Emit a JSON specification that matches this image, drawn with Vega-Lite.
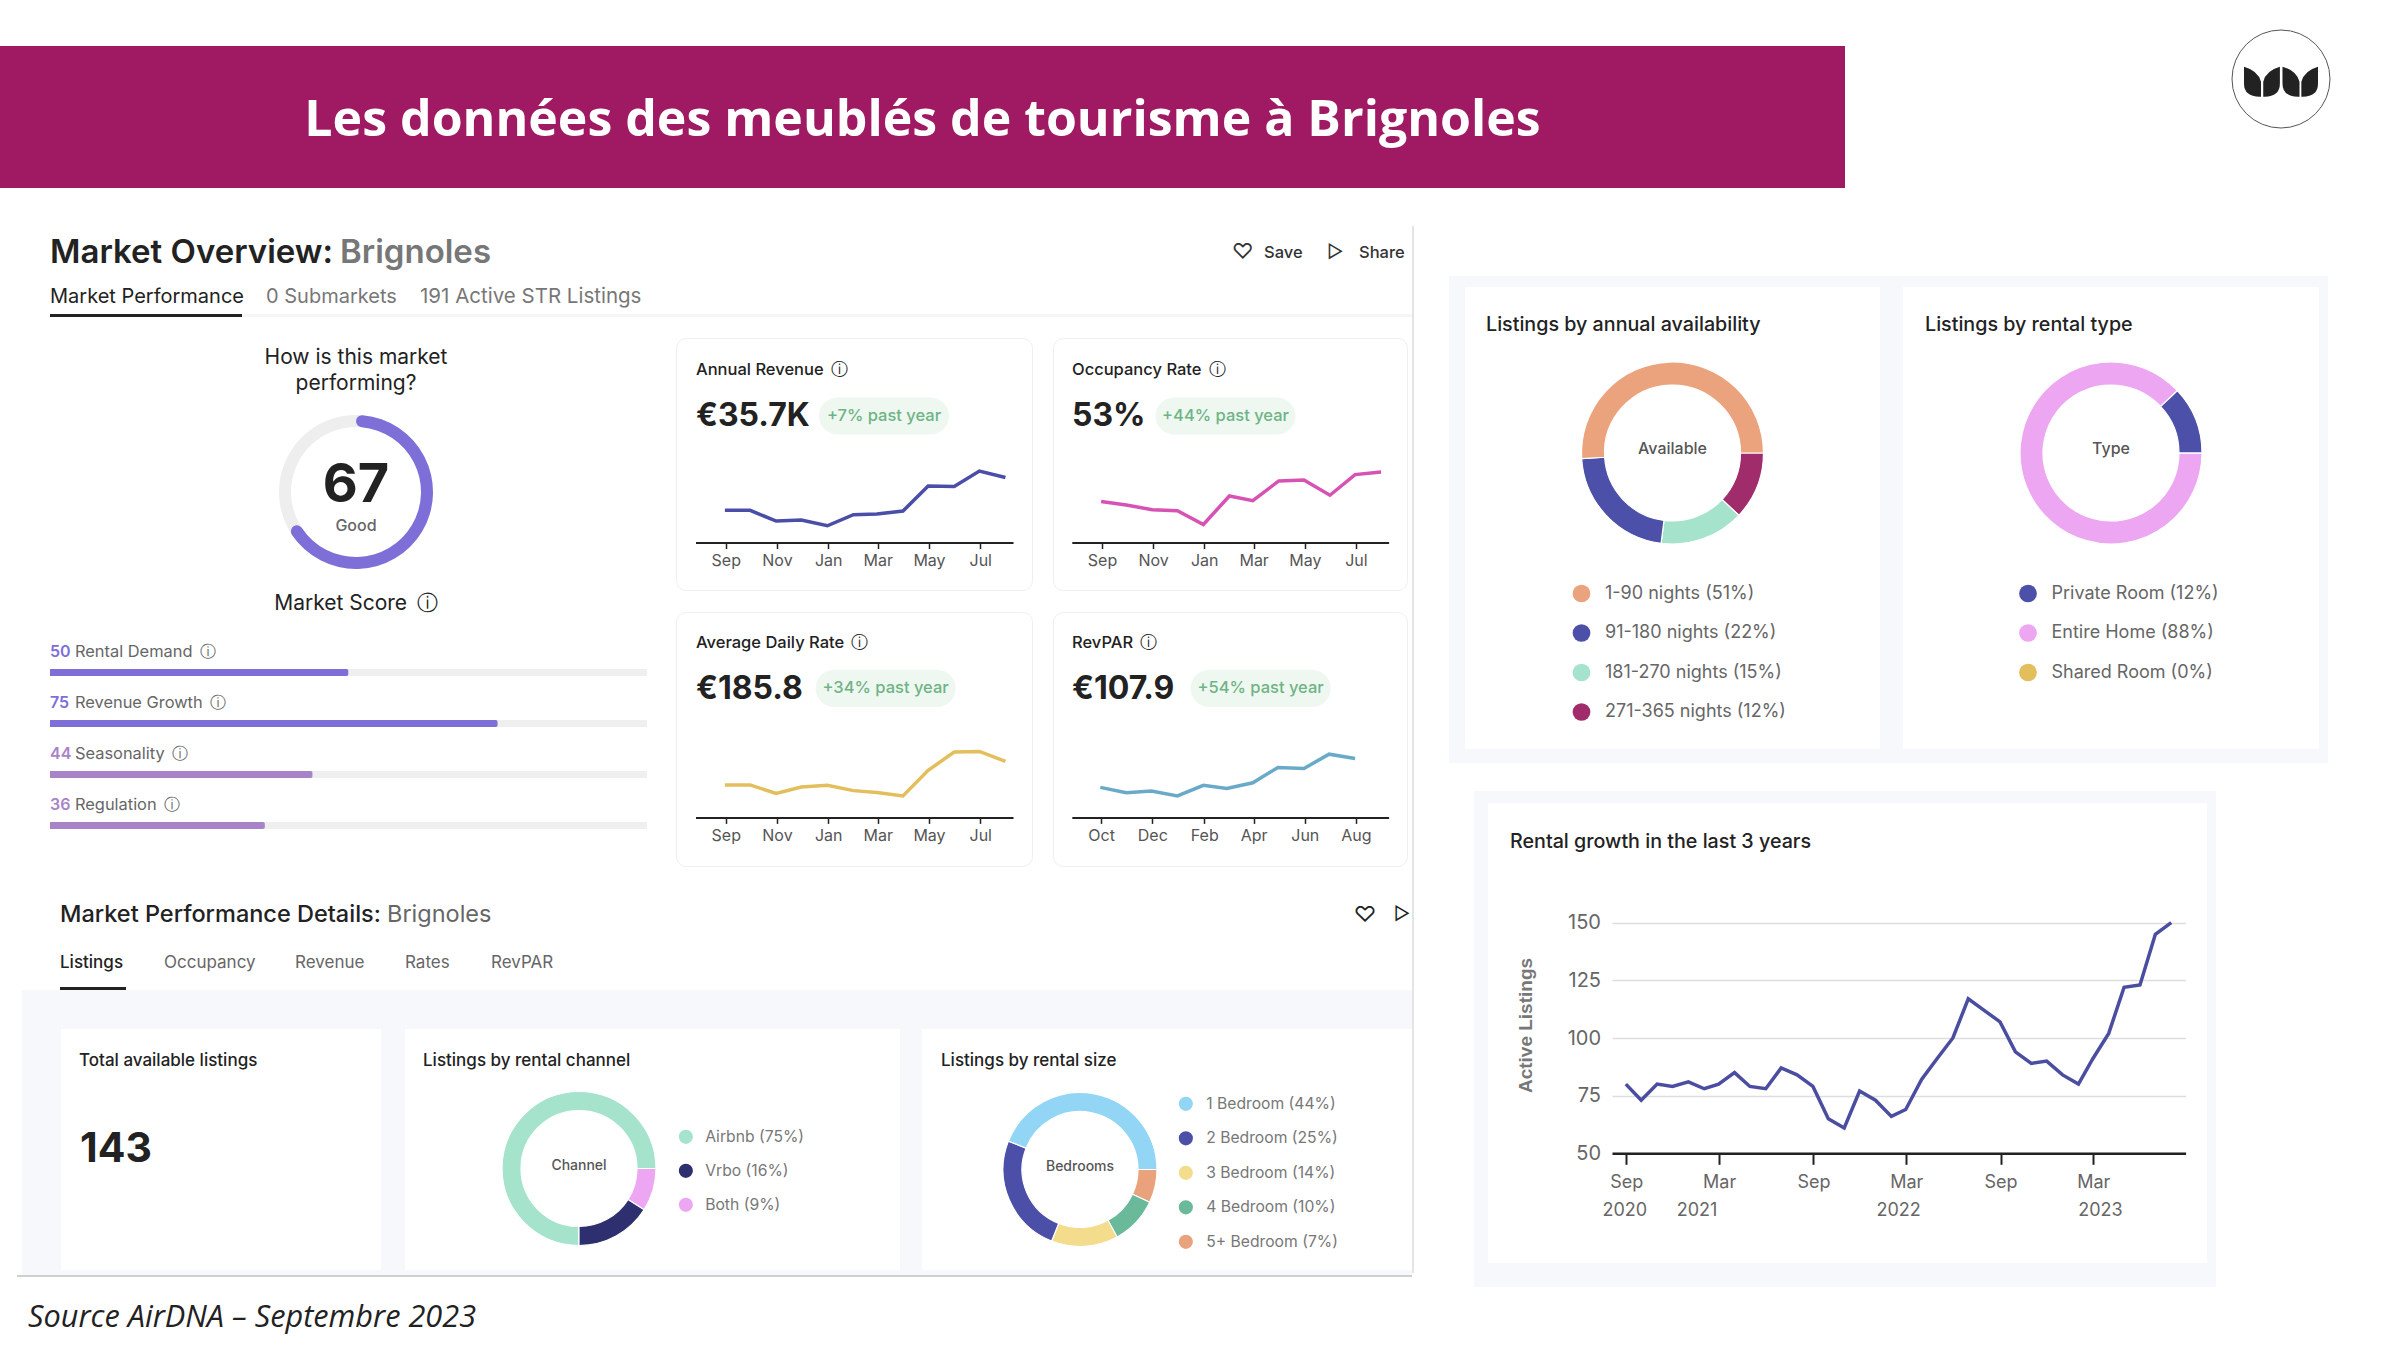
{"$schema":"https://vega.github.io/schema/vega-lite/v6.json","padding":0,"background":"white","spacing":0,
"resolve":{"scale":{"color":"independent","theta":"independent"},"legend":{"color":"independent"}},
"datasets":{"blank":[]},
"config":{"font":"Inter","view":{"stroke":null},"concat":{"spacing":0},"axis":{"labelFont":"Inter","grid":false,"title":null,"labelOverlap":false,"labelFlush":false},"legend":{"labelFont":"Inter","labelLimit":400}},
"vconcat":[
{"hconcat":[
 {"vconcat":[
  {"width":1845,"height":46,"view":{"fill":"#fff"},"data":{"name":"blank"},"mark":{"type":"text"},"encoding":{"text":{"field":"t"}}},
  {"width":1845,"height":142,"view":{"fill":"#A01A63"},"data":{"values":[{"t":"Les données des meublés de tourisme à Brignoles"}]},"mark":{"type":"text","font":"Open Sans","fontWeight":700,"fontSize":50,"color":"#fff","dy":4},"encoding":{"text":{"field":"t"}}}
 ]},
 {"width":555,"height":188,"view":{"fill":"#fff"},"layer":[
  {"data":{"values":[{"logo":"ring"}]},"mark":{"type":"point","shape":"circle","size":9604,"filled":false,"stroke":"#555","strokeWidth":1,"opacity":1,"xOffset":158.5,"yOffset":-15}},
  {"data":{"values":[{"logo":"leaves"}]},"mark":{"type":"point","filled":true,"opacity":1,"color":"#222","size":5476,"xOffset":158.5,"yOffset":-12.3,"shape":"M-1,-0.405 Q-0.62,-0.3 -0.54,0 L-0.54,0.405 Q-1,0.42 -1,0.05 Z M-0.03,-0.405 Q-0.41,-0.3 -0.48,0 L-0.48,0.405 Q-0.03,0.42 -0.03,0.05 Z M0.04,-0.405 Q0.42,-0.3 0.5,0 L0.5,0.405 Q0.04,0.42 0.04,0.05 Z M1,-0.405 Q0.63,-0.3 0.55,0 L0.55,0.405 Q1,0.42 1,0.05 Z"}}
 ]}
]},
{"resolve":{"scale":{"color":"independent","theta":"independent"},"legend":{"color":"independent"}},"hconcat":[
 {"resolve":{"scale":{"color":"independent","theta":"independent"},"legend":{"color":"independent"}},"vconcat":[
  {"width":1412,"height":126,"view":{"fill":"#fff"},"layer":[
   {"data":{"values":[{"t":"Market Overview:"}]},"mark":{"type":"text","align":"left","dx":-656,"dy":1.5,"fontSize":33,"fontWeight":600,"color":"#222"},"encoding":{"text":{"field":"t"}}},
   {"data":{"values":[{"t":"Brignoles"}]},"mark":{"type":"text","align":"left","dx":-366,"dy":1.5,"fontSize":33,"fontWeight":600,"color":"#777"},"encoding":{"text":{"field":"t"}}},
   {"data":{"values":[{"t":"♡"}]},"mark":{"type":"text","align":"left","dx":526,"dy":1.5,"fontSize":21,"color":"#333"},"encoding":{"text":{"field":"t"}}},
   {"data":{"values":[{"t":"Save"}]},"mark":{"type":"text","align":"left","dx":558,"dy":1.5,"fontSize":16.5,"fontWeight":500,"color":"#333"},"encoding":{"text":{"field":"t"}}},
   {"data":{"values":[{"t":"▷"}]},"mark":{"type":"text","align":"left","dx":621,"dy":1.5,"fontSize":18,"color":"#333"},"encoding":{"text":{"field":"t"}}},
   {"data":{"values":[{"t":"Share"}]},"mark":{"type":"text","align":"left","dx":653,"dy":1.5,"fontSize":16.5,"fontWeight":500,"color":"#333"},"encoding":{"text":{"field":"t"}}},
   {"data":{"values":[{"t":"Market Performance"}]},"mark":{"type":"text","align":"left","dx":-656,"dy":45.5,"fontSize":20,"color":"#222"},"encoding":{"text":{"field":"t"}}},
   {"data":{"values":[{"t":"0 Submarkets"}]},"mark":{"type":"text","align":"left","dx":-440,"dy":45.5,"fontSize":20,"color":"#777"},"encoding":{"text":{"field":"t"}}},
   {"data":{"values":[{"t":"191 Active STR Listings"}]},"mark":{"type":"text","align":"left","dx":-286,"dy":45.5,"fontSize":20.5,"color":"#777"},"encoding":{"text":{"field":"t"}}}
  ]},
  {"hconcat":[
   {"width":50,"height":3,"view":{"fill":"#fff"},"data":{"name":"blank"},"mark":{"type":"text"},"encoding":{"text":{"field":"t"}}},
   {"width":192,"height":3,"view":{"fill":"#222"},"data":{"name":"blank"},"mark":{"type":"text"},"encoding":{"text":{"field":"t"}}},
   {"width":1170,"height":3,"view":{"fill":"#F6F6F6"},"data":{"name":"blank"},"mark":{"type":"text"},"encoding":{"text":{"field":"t"}}}
  ]},
  {"width":1412,"height":19.5,"view":{"fill":"#fff"},"data":{"name":"blank"},"mark":{"type":"text"},"encoding":{"text":{"field":"t"}}},
  {"resolve":{"scale":{"color":"independent","theta":"independent"},"legend":{"color":"independent"}},"hconcat":[
   {"width":50,"height":525,"view":{"fill":"#fff"},"data":{"name":"blank"},"mark":{"type":"text"},"encoding":{"text":{"field":"t"}}},
   {"resolve":{"scale":{"color":"independent","theta":"independent"},"legend":{"color":"independent"}},"vconcat":[
    {"width":612,"height":305,"view":{"fill":"#fff"},"layer":[
     {"data":{"values":[{"track":100}]},"mark":{"type":"arc","innerRadius":65,"outerRadius":77,"color":"#EEEEEE","yOffset":1.5},"encoding":{"theta":{"field":"track","type":"quantitative","scale":{"domain":[0,100]}}}},
     {"data":{"values":[{"track":67}]},"mark":{"type":"arc","innerRadius":65,"outerRadius":77,"color":"#7E6FD8","cornerRadius":6,"yOffset":1.5},"encoding":{"theta":{"field":"track","type":"quantitative","scale":{"domain":[0,100]}}}},
     {"data":{"values":[{"t":"How is this market"}]},"mark":{"type":"text","dy":-133,"fontSize":21,"color":"#222"},"encoding":{"text":{"field":"t"}}},
     {"data":{"values":[{"t":"performing?"}]},"mark":{"type":"text","dy":-107,"fontSize":21,"color":"#222"},"encoding":{"text":{"field":"t"}}},
     {"data":{"values":[{"t":"67"}]},"mark":{"type":"text","dy":-4.5,"fontSize":54,"fontWeight":700,"color":"#222"},"encoding":{"text":{"field":"t"}}},
     {"data":{"values":[{"t":"Good"}]},"mark":{"type":"text","dy":35.5,"fontSize":16,"fontWeight":500,"color":"#666"},"encoding":{"text":{"field":"t"}}},
     {"data":{"values":[{"t":"Market Score \u2009ⓘ"}]},"mark":{"type":"text","dy":113,"fontSize":21,"color":"#222"},"encoding":{"text":{"field":"t"}}}
    ]},
    {"width":597,"height":204,"view":{"fill":"#fff"},
     "data":{"values":[{"metric":"Rental Demand \u2009ⓘ","score":50,"max":100},{"metric":"Revenue Growth \u2009ⓘ","score":75,"max":100},{"metric":"Seasonality \u2009ⓘ","score":44,"max":100},{"metric":"Regulation \u2009ⓘ","score":36,"max":100}]},
     "encoding":{"y":{"field":"metric","type":"nominal","sort":null,"axis":null,"scale":{"paddingInner":0,"paddingOuter":0}}},
     "layer":[
      {"mark":{"type":"bar","height":7,"color":"#EFEFEF"},"encoding":{"x":{"field":"max","type":"quantitative","axis":null,"scale":{"domain":[0,100]}}}},
      {"mark":{"type":"bar","height":7,"cornerRadiusEnd":2},"encoding":{"x":{"field":"score","type":"quantitative","axis":null,"scale":{"domain":[0,100]}},"color":{"field":"metric","type":"nominal","legend":null,"scale":{"domain":["Rental Demand \u2009ⓘ","Revenue Growth \u2009ⓘ","Seasonality \u2009ⓘ","Regulation \u2009ⓘ"],"range":["#7E6FD8","#7E6FD8","#A883C8","#A883C8"]}}}},
      {"mark":{"type":"text","align":"left","dy":-21,"fontSize":16,"fontWeight":600},"encoding":{"x":{"datum":0,"type":"quantitative"},"text":{"field":"score"},"color":{"field":"metric","type":"nominal","legend":null}}},
      {"mark":{"type":"text","align":"left","dy":-21,"dx":25,"fontSize":16.4,"color":"#666"},"encoding":{"x":{"datum":0,"type":"quantitative"},"text":{"field":"metric"}}}
     ]}
   ]},
   {"width":13,"height":525,"view":{"fill":"#fff"},"data":{"name":"blank"},"mark":{"type":"text"},"encoding":{"text":{"field":"t"}}},
   {"vconcat":[
    {"hconcat":[
     {"width":356,"height":252,"view":{"fill":"#fff","stroke":"#EFEFEF","cornerRadius":10},"layer":[
      {"data":{"values":[{"month":"2022-09-01","v":33.4},{"month":"2022-10-01","v":33.4},{"month":"2022-11-01","v":32.65},{"month":"2022-12-01","v":32.72},{"month":"2023-01-01","v":32.32},{"month":"2023-02-01","v":33.1},{"month":"2023-03-01","v":33.15},{"month":"2023-04-01","v":33.35},{"month":"2023-05-01","v":35.1},{"month":"2023-06-01","v":35.07},{"month":"2023-07-01","v":36.15},{"month":"2023-08-01","v":35.7}]},
       "mark":{"type":"line","color":"#4A4EA8","strokeWidth":3.5},
       "encoding":{"x":{"field":"month","type":"temporal","scale":{"domain":["2022-07-28","2023-08-10"],"range":[19.5,337]},"axis":{"values":[{"year":2022,"month":"sep","date":2},{"year":2022,"month":"nov","date":2},{"year":2023,"month":"jan","date":2},{"year":2023,"month":"mar","date":2},{"year":2023,"month":"may","date":2},{"year":2023,"month":"jul","date":2}],"format":"%b","offset":-47.5,"domainColor":"#222","domainWidth":2,"tickColor":"#222","tickWidth":1.5,"tickSize":6,"labelColor":"#555","labelFontSize":16,"labelPadding":4}},
        "y":{"field":"v","type":"quantitative","axis":null,"scale":{"domain":[31.15,36.15],"range":[204.5,133.1]}}}},
      {"data":{"values":[{"t":"Annual Revenue \u2009ⓘ"}]},"mark":{"type":"text","align":"left","dx":-158,"dy":-94,"fontSize":16.5,"fontWeight":500,"color":"#222"},"encoding":{"text":{"field":"t"}}},
      {"data":{"values":[{"t":"€35.7K"}]},"mark":{"type":"text","align":"left","dx":-158,"dy":-48,"fontSize":32,"fontWeight":700,"color":"#222"},"encoding":{"text":{"field":"t"}}},
      {"data":{"values":[{"badge":"pill"}]},"mark":{"type":"point","filled":true,"opacity":1,"color":"#EEF8F0","size":16900,"xOffset":30,"yOffset":-48,"shape":"M-0.715,-0.285 H0.715 A0.285,0.285 0 0 1 0.715,0.285 H-0.715 A0.285,0.285 0 0 1 -0.715,-0.285 Z"}},
      {"data":{"values":[{"t":"+7% past year"}]},"mark":{"type":"text","dx":30,"dy":-48,"fontSize":16.5,"fontWeight":500,"color":"#6FB386"},"encoding":{"text":{"field":"t"}}}
     ]},
     {"width":19,"height":252,"view":{"fill":"#fff"},"data":{"name":"blank"},"mark":{"type":"text"},"encoding":{"text":{"field":"t"}}},
     {"width":354,"height":252,"view":{"fill":"#fff","stroke":"#EFEFEF","cornerRadius":10},"layer":[
      {"data":{"values":[{"month":"2022-09-01","v":36.8},{"month":"2022-10-01","v":34.8},{"month":"2022-11-01","v":32.2},{"month":"2022-12-01","v":31.6},{"month":"2023-01-01","v":24},{"month":"2023-02-01","v":39.8},{"month":"2023-03-01","v":37.2},{"month":"2023-04-01","v":48.1},{"month":"2023-05-01","v":48.6},{"month":"2023-06-01","v":40.2},{"month":"2023-07-01","v":51.6},{"month":"2023-08-01","v":53}]},
       "mark":{"type":"line","color":"#D653B4","strokeWidth":3.5},
       "encoding":{"x":{"field":"month","type":"temporal","scale":{"domain":["2022-07-28","2023-08-10"],"range":[18.8,335.6]},"axis":{"values":[{"year":2022,"month":"sep","date":2},{"year":2022,"month":"nov","date":2},{"year":2023,"month":"jan","date":2},{"year":2023,"month":"mar","date":2},{"year":2023,"month":"may","date":2},{"year":2023,"month":"jul","date":2}],"format":"%b","offset":-47.5,"domainColor":"#222","domainWidth":2,"tickColor":"#222","tickWidth":1.5,"tickSize":6,"labelColor":"#555","labelFontSize":16,"labelPadding":4}},
        "y":{"field":"v","type":"quantitative","axis":null,"scale":{"domain":[14.07,53],"range":[204.5,134.1]}}}},
      {"data":{"values":[{"t":"Occupancy Rate \u2009ⓘ"}]},"mark":{"type":"text","align":"left","dx":-158,"dy":-94,"fontSize":16.5,"fontWeight":500,"color":"#222"},"encoding":{"text":{"field":"t"}}},
      {"data":{"values":[{"t":"53%"}]},"mark":{"type":"text","align":"left","dx":-158,"dy":-48,"fontSize":32,"fontWeight":700,"color":"#222"},"encoding":{"text":{"field":"t"}}},
      {"data":{"values":[{"badge":"pill"}]},"mark":{"type":"point","filled":true,"opacity":1,"color":"#EEF8F0","size":19600,"xOffset":-4.5,"yOffset":-48,"shape":"M-0.735,-0.265 H0.735 A0.265,0.265 0 0 1 0.735,0.265 H-0.735 A0.265,0.265 0 0 1 -0.735,-0.265 Z"}},
      {"data":{"values":[{"t":"+44% past year"}]},"mark":{"type":"text","dx":-4.5,"dy":-48,"fontSize":16.5,"fontWeight":500,"color":"#6FB386"},"encoding":{"text":{"field":"t"}}}
     ]}
    ]},
    {"width":729,"height":19.5,"view":{"fill":"#fff"},"data":{"name":"blank"},"mark":{"type":"text"},"encoding":{"text":{"field":"t"}}},
    {"hconcat":[
     {"width":356,"height":254,"view":{"fill":"#fff","stroke":"#EFEFEF","cornerRadius":10},"layer":[
      {"data":{"values":[{"month":"2022-09-01","v":138.7},{"month":"2022-10-01","v":138.7},{"month":"2022-11-01","v":121.6},{"month":"2022-12-01","v":134.4},{"month":"2023-01-01","v":138},{"month":"2023-02-01","v":127.3},{"month":"2023-03-01","v":123.7},{"month":"2023-04-01","v":116.6},{"month":"2023-05-01","v":168},{"month":"2023-06-01","v":204.4},{"month":"2023-07-01","v":205.8},{"month":"2023-08-01","v":185.8}]},
       "mark":{"type":"line","color":"#E3BE5C","strokeWidth":3.5},
       "encoding":{"x":{"field":"month","type":"temporal","scale":{"domain":["2022-07-28","2023-08-10"],"range":[19.5,337]},"axis":{"values":[{"year":2022,"month":"sep","date":2},{"year":2022,"month":"nov","date":2},{"year":2023,"month":"jan","date":2},{"year":2023,"month":"mar","date":2},{"year":2023,"month":"may","date":2},{"year":2023,"month":"jul","date":2}],"format":"%b","offset":-48.6,"domainColor":"#222","domainWidth":2,"tickColor":"#222","tickWidth":1.5,"tickSize":6,"labelColor":"#555","labelFontSize":16,"labelPadding":4}},
        "y":{"field":"v","type":"quantitative","axis":null,"scale":{"domain":[73.7,205.8],"range":[205.4,139.4]}}}},
      {"data":{"values":[{"t":"Average Daily Rate \u2009ⓘ"}]},"mark":{"type":"text","align":"left","dx":-158,"dy":-96,"fontSize":16.5,"fontWeight":500,"color":"#222"},"encoding":{"text":{"field":"t"}}},
      {"data":{"values":[{"t":"€185.8"}]},"mark":{"type":"text","align":"left","dx":-158,"dy":-50.5,"fontSize":32,"fontWeight":700,"color":"#222"},"encoding":{"text":{"field":"t"}}},
      {"data":{"values":[{"badge":"pill"}]},"mark":{"type":"point","filled":true,"opacity":1,"color":"#EEF8F0","size":19600,"xOffset":31.6,"yOffset":-50.6,"shape":"M-0.735,-0.265 H0.735 A0.265,0.265 0 0 1 0.735,0.265 H-0.735 A0.265,0.265 0 0 1 -0.735,-0.265 Z"}},
      {"data":{"values":[{"t":"+34% past year"}]},"mark":{"type":"text","dx":31.6,"dy":-50.6,"fontSize":16.5,"fontWeight":500,"color":"#6FB386"},"encoding":{"text":{"field":"t"}}}
     ]},
     {"width":19,"height":254,"view":{"fill":"#fff"},"data":{"name":"blank"},"mark":{"type":"text"},"encoding":{"text":{"field":"t"}}},
     {"width":354,"height":254,"view":{"fill":"#fff","stroke":"#EFEFEF","cornerRadius":10},"layer":[
      {"data":{"values":[{"month":"2022-10-01","v":70},{"month":"2022-11-01","v":63},{"month":"2022-12-01","v":65.3},{"month":"2023-01-01","v":58.8},{"month":"2023-02-01","v":72.8},{"month":"2023-03-01","v":68.6},{"month":"2023-04-01","v":76.1},{"month":"2023-05-01","v":96.2},{"month":"2023-06-01","v":94.8},{"month":"2023-07-01","v":113.5},{"month":"2023-08-01","v":107.9}]},
       "mark":{"type":"line","color":"#6AAAC8","strokeWidth":3.5},
       "encoding":{"x":{"field":"month","type":"temporal","scale":{"domain":["2022-08-28","2023-09-10"],"range":[18.8,335.6]},"axis":{"values":[{"year":2022,"month":"oct","date":2},{"year":2022,"month":"dec","date":2},{"year":2023,"month":"feb","date":2},{"year":2023,"month":"apr","date":2},{"year":2023,"month":"jun","date":2},{"year":2023,"month":"aug","date":2}],"format":"%b","offset":-48.6,"domainColor":"#222","domainWidth":2,"tickColor":"#222","tickWidth":1.5,"tickSize":6,"labelColor":"#555","labelFontSize":16,"labelPadding":4}},
        "y":{"field":"v","type":"quantitative","axis":null,"scale":{"domain":[30.7,113.5],"range":[205.4,142.2]}}}},
      {"data":{"values":[{"t":"RevPAR \u2009ⓘ"}]},"mark":{"type":"text","align":"left","dx":-158,"dy":-96,"fontSize":16.5,"fontWeight":500,"color":"#222"},"encoding":{"text":{"field":"t"}}},
      {"data":{"values":[{"t":"€107.9"}]},"mark":{"type":"text","align":"left","dx":-158,"dy":-50.5,"fontSize":32,"fontWeight":700,"color":"#222"},"encoding":{"text":{"field":"t"}}},
      {"data":{"values":[{"badge":"pill"}]},"mark":{"type":"point","filled":true,"opacity":1,"color":"#EEF8F0","size":19600,"xOffset":30.6,"yOffset":-50.6,"shape":"M-0.735,-0.265 H0.735 A0.265,0.265 0 0 1 0.735,0.265 H-0.735 A0.265,0.265 0 0 1 -0.735,-0.265 Z"}},
      {"data":{"values":[{"t":"+54% past year"}]},"mark":{"type":"text","dx":30.6,"dy":-50.6,"fontSize":16.5,"fontWeight":500,"color":"#6FB386"},"encoding":{"text":{"field":"t"}}}
     ]}
    ]}
   ]}
  ]},
  {"width":1412,"height":120,"view":{"fill":"#fff"},"layer":[
   {"data":{"values":[{"t":"Market Performance Details:"}]},"mark":{"type":"text","align":"left","dx":-646,"dy":-12,"fontSize":23.5,"fontWeight":500,"color":"#222"},"encoding":{"text":{"field":"t"}}},
   {"data":{"values":[{"t":"Brignoles"}]},"mark":{"type":"text","align":"left","dx":-319,"dy":-12,"fontSize":23.5,"color":"#666"},"encoding":{"text":{"field":"t"}}},
   {"data":{"values":[{"t":"♡"}]},"mark":{"type":"text","dx":659,"dy":-12,"fontSize":22,"color":"#222"},"encoding":{"text":{"field":"t"}}},
   {"data":{"values":[{"t":"▷"}]},"mark":{"type":"text","dx":696,"dy":-12,"fontSize":18,"color":"#222"},"encoding":{"text":{"field":"t"}}},
   {"data":{"values":[{"t":"Listings"}]},"mark":{"type":"text","align":"left","dx":-646,"dy":36,"fontSize":17,"fontWeight":500,"color":"#222"},"encoding":{"text":{"field":"t"}}},
   {"data":{"values":[{"t":"Occupancy"}]},"mark":{"type":"text","align":"left","dx":-542,"dy":36,"fontSize":17,"color":"#666"},"encoding":{"text":{"field":"t"}}},
   {"data":{"values":[{"t":"Revenue"}]},"mark":{"type":"text","align":"left","dx":-411,"dy":36,"fontSize":17,"color":"#666"},"encoding":{"text":{"field":"t"}}},
   {"data":{"values":[{"t":"Rates"}]},"mark":{"type":"text","align":"left","dx":-301,"dy":36,"fontSize":17,"color":"#666"},"encoding":{"text":{"field":"t"}}},
   {"data":{"values":[{"t":"RevPAR"}]},"mark":{"type":"text","align":"left","dx":-215,"dy":36,"fontSize":17,"color":"#666"},"encoding":{"text":{"field":"t"}}}
  ]},
  {"hconcat":[
   {"width":60,"height":3,"view":{"fill":"#fff"},"data":{"name":"blank"},"mark":{"type":"text"},"encoding":{"text":{"field":"t"}}},
   {"width":66,"height":3,"view":{"fill":"#222"},"data":{"name":"blank"},"mark":{"type":"text"},"encoding":{"text":{"field":"t"}}}
  ]},
  {"hconcat":[
   {"width":22,"height":39,"view":{"fill":"#fff"},"data":{"name":"blank"},"mark":{"type":"text"},"encoding":{"text":{"field":"t"}}},
   {"width":1390,"height":39,"view":{"fill":"#F7F8FB"},"data":{"name":"blank"},"mark":{"type":"text"},"encoding":{"text":{"field":"t"}}}
  ]},
  {"resolve":{"scale":{"color":"independent","theta":"independent"},"legend":{"color":"independent"}},"hconcat":[
   {"width":22,"height":241,"view":{"fill":"#fff"},"data":{"name":"blank"},"mark":{"type":"text"},"encoding":{"text":{"field":"t"}}},
   {"width":39,"height":241,"view":{"fill":"#F7F8FB"},"data":{"name":"blank"},"mark":{"type":"text"},"encoding":{"text":{"field":"t"}}},
   {"width":320,"height":241,"view":{"fill":"#fff","cornerRadius":10},"layer":[
    {"data":{"values":[{"t":"Total available listings"}]},"mark":{"type":"text","align":"left","dx":-142,"dy":-88.5,"fontSize":17,"fontWeight":500,"color":"#222"},"encoding":{"text":{"field":"t"}}},
    {"data":{"values":[{"t":"143"}]},"mark":{"type":"text","align":"left","dx":-141,"dy":0,"fontSize":41,"fontWeight":700,"color":"#222"},"encoding":{"text":{"field":"t"}}}
   ]},
   {"width":24,"height":241,"view":{"fill":"#F7F8FB"},"data":{"name":"blank"},"mark":{"type":"text"},"encoding":{"text":{"field":"t"}}},
   {"width":495,"height":241,"view":{"fill":"#fff","cornerRadius":10},"layer":[
    {"data":{"values":[{"channel":"Airbnb (75%)","share":75,"rank":1},{"channel":"Both (9%)","share":9,"rank":2},{"channel":"Vrbo (16%)","share":16,"rank":3}]},
     "mark":{"type":"arc","innerRadius":58,"outerRadius":77,"stroke":"#fff","strokeWidth":1.2,"xOffset":-73.5,"yOffset":19},
     "encoding":{"theta":{"field":"share","type":"quantitative","scale":{"range":[3.14159,9.42478]}},"order":{"field":"rank"},
      "color":{"field":"channel","type":"nominal","scale":{"domain":["Airbnb (75%)","Vrbo (16%)","Both (9%)"],"range":["#A5E3CD","#2D2F6E","#EDA6F2"]},"legend":{"orient":"none","legendX":273,"legendY":100,"title":null,"symbolType":"circle","symbolSize":200,"symbolStrokeWidth":0,"labelFontSize":15.7,"labelColor":"#777","labelOffset":11.5,"rowPadding":17}}}},
    {"data":{"values":[{"t":"Listings by rental channel"}]},"mark":{"type":"text","align":"left","dx":-229.5,"dy":-88.5,"fontSize":17,"fontWeight":500,"color":"#222"},"encoding":{"text":{"field":"t"}}},
    {"data":{"values":[{"t":"Channel"}]},"mark":{"type":"text","dx":-73.5,"dy":16,"fontSize":14,"fontWeight":500,"color":"#555"},"encoding":{"text":{"field":"t"}}}
   ]},
   {"width":22,"height":241,"view":{"fill":"#F7F8FB"},"data":{"name":"blank"},"mark":{"type":"text"},"encoding":{"text":{"field":"t"}}},
   {"width":490,"height":241,"view":{"fill":"#fff","cornerRadius":10},"layer":[
    {"data":{"values":[{"size":"5+ Bedroom (7%)","share":7,"rank":1},{"size":"4 Bedroom (10%)","share":10,"rank":2},{"size":"3 Bedroom (14%)","share":14,"rank":3},{"size":"2 Bedroom (25%)","share":25,"rank":4},{"size":"1 Bedroom (44%)","share":44,"rank":5}]},
     "mark":{"type":"arc","innerRadius":58,"outerRadius":77,"stroke":"#fff","strokeWidth":1.2,"xOffset":-87,"yOffset":20},
     "encoding":{"theta":{"field":"share","type":"quantitative","scale":{"range":[1.5708,7.85398]}},"order":{"field":"rank"},
      "color":{"field":"size","type":"nominal","scale":{"domain":["1 Bedroom (44%)","2 Bedroom (25%)","3 Bedroom (14%)","4 Bedroom (10%)","5+ Bedroom (7%)"],"range":["#93D5F5","#4C4FA8","#F3DC8B","#69B99A","#E9A27C"]},"legend":{"orient":"none","legendX":256,"legendY":67,"title":null,"symbolType":"circle","symbolSize":200,"symbolStrokeWidth":0,"labelFontSize":15.7,"labelColor":"#777","labelOffset":12.5,"rowPadding":17.5}}}},
    {"data":{"values":[{"t":"Listings by rental size"}]},"mark":{"type":"text","align":"left","dx":-226,"dy":-88.5,"fontSize":17,"fontWeight":500,"color":"#222"},"encoding":{"text":{"field":"t"}}},
    {"data":{"values":[{"t":"Bedrooms"}]},"mark":{"type":"text","dx":-87,"dy":17,"fontSize":14,"fontWeight":500,"color":"#555"},"encoding":{"text":{"field":"t"}}}
   ]}
  ]},
  {"hconcat":[
   {"width":22,"height":5,"view":{"fill":"#fff"},"data":{"name":"blank"},"mark":{"type":"text"},"encoding":{"text":{"field":"t"}}},
   {"width":1390,"height":5,"view":{"fill":"#F7F8FB"},"data":{"name":"blank"},"mark":{"type":"text"},"encoding":{"text":{"field":"t"}}}
  ]},
  {"hconcat":[
   {"width":17,"height":2,"view":{"fill":"#fff"},"data":{"name":"blank"},"mark":{"type":"text"},"encoding":{"text":{"field":"t"}}},
   {"width":1395,"height":2,"view":{"fill":"#CFCFCF"},"data":{"name":"blank"},"mark":{"type":"text"},"encoding":{"text":{"field":"t"}}}
  ]},
  {"width":1412,"height":78,"view":{"fill":"#fff"},"data":{"values":[{"t":"Source AirDNA – Septembre 2023"}]},"mark":{"type":"text","align":"left","dx":-678,"dy":1.5,"font":"Open Sans","fontStyle":"italic","fontSize":30.7,"color":"#222"},"encoding":{"text":{"field":"t"}}}
 ]},
 {"vconcat":[
  {"width":2,"height":38,"view":{"fill":"#fff"},"data":{"name":"blank"},"mark":{"type":"text"},"encoding":{"text":{"field":"t"}}},
  {"width":2,"height":1047,"view":{"fill":"#E4E4E4"},"data":{"name":"blank"},"mark":{"type":"text"},"encoding":{"text":{"field":"t"}}}
 ]},
 {"width":35,"height":10,"view":{"fill":"#fff"},"data":{"name":"blank"},"mark":{"type":"text"},"encoding":{"text":{"field":"t"}}},
 {"resolve":{"scale":{"color":"independent","theta":"independent"},"legend":{"color":"independent"}},"vconcat":[
  {"width":879,"height":88,"view":{"fill":"#fff"},"data":{"name":"blank"},"mark":{"type":"text"},"encoding":{"text":{"field":"t"}}},
  {"width":879,"height":11,"view":{"fill":"#F7F8FB"},"data":{"name":"blank"},"mark":{"type":"text"},"encoding":{"text":{"field":"t"}}},
  {"resolve":{"scale":{"color":"independent","theta":"independent"},"legend":{"color":"independent"}},"hconcat":[
   {"width":16,"height":462,"view":{"fill":"#F7F8FB"},"data":{"name":"blank"},"mark":{"type":"text"},"encoding":{"text":{"field":"t"}}},
   {"width":415,"height":462,"view":{"fill":"#fff","cornerRadius":12},"layer":[
    {"data":{"values":[{"nights":"271-365 nights (12%)","share":12,"rank":1},{"nights":"181-270 nights (15%)","share":15,"rank":2},{"nights":"91-180 nights (22%)","share":22,"rank":3},{"nights":"1-90 nights (51%)","share":51,"rank":4}]},
     "mark":{"type":"arc","innerRadius":68,"outerRadius":91,"stroke":"#fff","strokeWidth":1.2,"yOffset":-65},
     "encoding":{"theta":{"field":"share","type":"quantitative","scale":{"range":[1.5708,7.85398]}},"order":{"field":"rank"},
      "color":{"field":"nights","type":"nominal","scale":{"domain":["1-90 nights (51%)","91-180 nights (22%)","181-270 nights (15%)","271-365 nights (12%)"],"range":["#EBA37D","#4C50A8","#A5E3CD","#A02C6B"]},"legend":{"orient":"none","legendX":107.5,"legendY":297.5,"title":null,"symbolType":"circle","symbolSize":314,"symbolStrokeWidth":0,"labelFontSize":18,"labelColor":"#666","labelOffset":14.5,"rowPadding":21.5}}}},
    {"data":{"values":[{"t":"Listings by annual availability"}]},"mark":{"type":"text","align":"left","dx":-186.5,"dy":-193,"fontSize":19.7,"fontWeight":500,"color":"#222"},"encoding":{"text":{"field":"t"}}},
    {"data":{"values":[{"t":"Available"}]},"mark":{"type":"text","dy":-69,"fontSize":16,"fontWeight":500,"color":"#555"},"encoding":{"text":{"field":"t"}}}
   ]},
   {"width":23,"height":462,"view":{"fill":"#F7F8FB"},"data":{"name":"blank"},"mark":{"type":"text"},"encoding":{"text":{"field":"t"}}},
   {"width":416,"height":462,"view":{"fill":"#fff","cornerRadius":12},"layer":[
    {"data":{"values":[{"kind":"Entire Home (88%)","share":88,"rank":1},{"kind":"Private Room (12%)","share":12,"rank":2},{"kind":"Shared Room (0%)","share":0,"rank":3}]},
     "mark":{"type":"arc","innerRadius":68,"outerRadius":91,"stroke":"#fff","strokeWidth":1.2,"yOffset":-65},
     "encoding":{"theta":{"field":"share","type":"quantitative","scale":{"range":[1.5708,7.85398]}},"order":{"field":"rank"},
      "color":{"field":"kind","type":"nominal","scale":{"domain":["Private Room (12%)","Entire Home (88%)","Shared Room (0%)"],"range":["#4C50A8","#EDA6F2","#E3BE5C"]},"legend":{"orient":"none","legendX":116,"legendY":297.5,"title":null,"symbolType":"circle","symbolSize":314,"symbolStrokeWidth":0,"labelFontSize":18,"labelColor":"#666","labelOffset":14.5,"rowPadding":21.5}}}},
    {"data":{"values":[{"t":"Listings by rental type"}]},"mark":{"type":"text","align":"left","dx":-186,"dy":-193,"fontSize":19.7,"fontWeight":500,"color":"#222"},"encoding":{"text":{"field":"t"}}},
    {"data":{"values":[{"t":"Type"}]},"mark":{"type":"text","dy":-69,"fontSize":16,"fontWeight":500,"color":"#555"},"encoding":{"text":{"field":"t"}}}
   ]},
   {"width":9,"height":462,"view":{"fill":"#F7F8FB"},"data":{"name":"blank"},"mark":{"type":"text"},"encoding":{"text":{"field":"t"}}}
  ]},
  {"width":879,"height":14,"view":{"fill":"#F7F8FB"},"data":{"name":"blank"},"mark":{"type":"text"},"encoding":{"text":{"field":"t"}}},
  {"width":879,"height":28,"view":{"fill":"#fff"},"data":{"name":"blank"},"mark":{"type":"text"},"encoding":{"text":{"field":"t"}}},
  {"hconcat":[
   {"width":25,"height":496,"view":{"fill":"#fff"},"data":{"name":"blank"},"mark":{"type":"text"},"encoding":{"text":{"field":"t"}}},
   {"vconcat":[
    {"width":742,"height":12,"view":{"fill":"#F7F8FB"},"data":{"name":"blank"},"mark":{"type":"text"},"encoding":{"text":{"field":"t"}}},
    {"hconcat":[
     {"width":14,"height":460,"view":{"fill":"#F7F8FB"},"data":{"name":"blank"},"mark":{"type":"text"},"encoding":{"text":{"field":"t"}}},
     {"width":719,"height":460,"view":{"fill":"#fff","cornerRadius":12},"layer":[
      {"data":{"values":[{"month":"2020-09-01","listings":80},{"month":"2020-10-01","listings":73},{"month":"2020-11-01","listings":80},{"month":"2020-12-01","listings":79},{"month":"2021-01-01","listings":81},{"month":"2021-02-01","listings":78},{"month":"2021-03-01","listings":80},{"month":"2021-04-01","listings":85},{"month":"2021-05-01","listings":79},{"month":"2021-06-01","listings":78},{"month":"2021-07-01","listings":87},{"month":"2021-08-01","listings":84},{"month":"2021-09-01","listings":79},{"month":"2021-10-01","listings":65},{"month":"2021-11-01","listings":61},{"month":"2021-12-01","listings":77},{"month":"2022-01-01","listings":73},{"month":"2022-02-01","listings":66},{"month":"2022-03-01","listings":69},{"month":"2022-04-01","listings":82},{"month":"2022-05-01","listings":91},{"month":"2022-06-01","listings":100},{"month":"2022-07-01","listings":117},{"month":"2022-08-01","listings":112},{"month":"2022-09-01","listings":107},{"month":"2022-10-01","listings":94},{"month":"2022-11-01","listings":89},{"month":"2022-12-01","listings":90},{"month":"2023-01-01","listings":84},{"month":"2023-02-01","listings":80},{"month":"2023-03-01","listings":91},{"month":"2023-04-01","listings":102},{"month":"2023-05-01","listings":122},{"month":"2023-06-01","listings":123},{"month":"2023-07-01","listings":145},{"month":"2023-08-01","listings":150}]},
       "mark":{"type":"line","color":"#4B4EA0","strokeWidth":3.5},
       "encoding":{"x":{"field":"month","type":"temporal","scale":{"domain":["2020-08-05","2023-08-29"],"range":[124,697.6]},"axis":{"values":[{"year":2020,"month":"sep","date":2},{"year":2021,"month":"mar","date":2},{"year":2021,"month":"sep","date":2},{"year":2022,"month":"mar","date":2},{"year":2022,"month":"sep","date":2},{"year":2023,"month":"mar","date":2}],"format":"%b","offset":-109.7,"domainColor":"#222","domainWidth":2.5,"tickColor":"#222","tickWidth":2,"tickSize":11,"labelColor":"#666","labelFontSize":18,"labelPadding":9.5}},
        "y":{"field":"listings","type":"quantitative","scale":{"domain":[50,150],"range":[350.3,119.7]},"axis":{"values":[50,75,100,125,150],"offset":-124,"title":"Active Listings","titleFont":"Liberation Sans","titleFontSize":19,"titleFontWeight":700,"titleColor":"#777","titlePadding":32,"titleY":222,"domain":false,"ticks":false,"grid":true,"gridColor":"#DDDDDD","gridWidth":1.5,"labelColor":"#666","labelFontSize":20,"labelPadding":11.5}}}},
      {"data":{"values":[{"year":"2020","at":"2020-08-30"},{"year":"2021","at":"2021-01-18"},{"year":"2022","at":"2022-02-15"},{"year":"2023","at":"2023-03-16"}]},
       "mark":{"type":"text","fontSize":18,"color":"#666","dy":57.5},
       "encoding":{"x":{"field":"at","type":"temporal"},"y":{"datum":50,"type":"quantitative"},"text":{"field":"year"}}},
      {"data":{"values":[{"t":"Rental growth in the last 3 years"}]},"mark":{"type":"text","align":"left","dx":-337.5,"dy":-191.5,"fontSize":19.7,"fontWeight":500,"color":"#222"},"encoding":{"text":{"field":"t"}}}
     ]},
     {"width":9,"height":460,"view":{"fill":"#F7F8FB"},"data":{"name":"blank"},"mark":{"type":"text"},"encoding":{"text":{"field":"t"}}}
    ]},
    {"width":742,"height":24,"view":{"fill":"#F7F8FB"},"data":{"name":"blank"},"mark":{"type":"text"},"encoding":{"text":{"field":"t"}}}
   ]}
  ]}
 ]}
]}
]}
